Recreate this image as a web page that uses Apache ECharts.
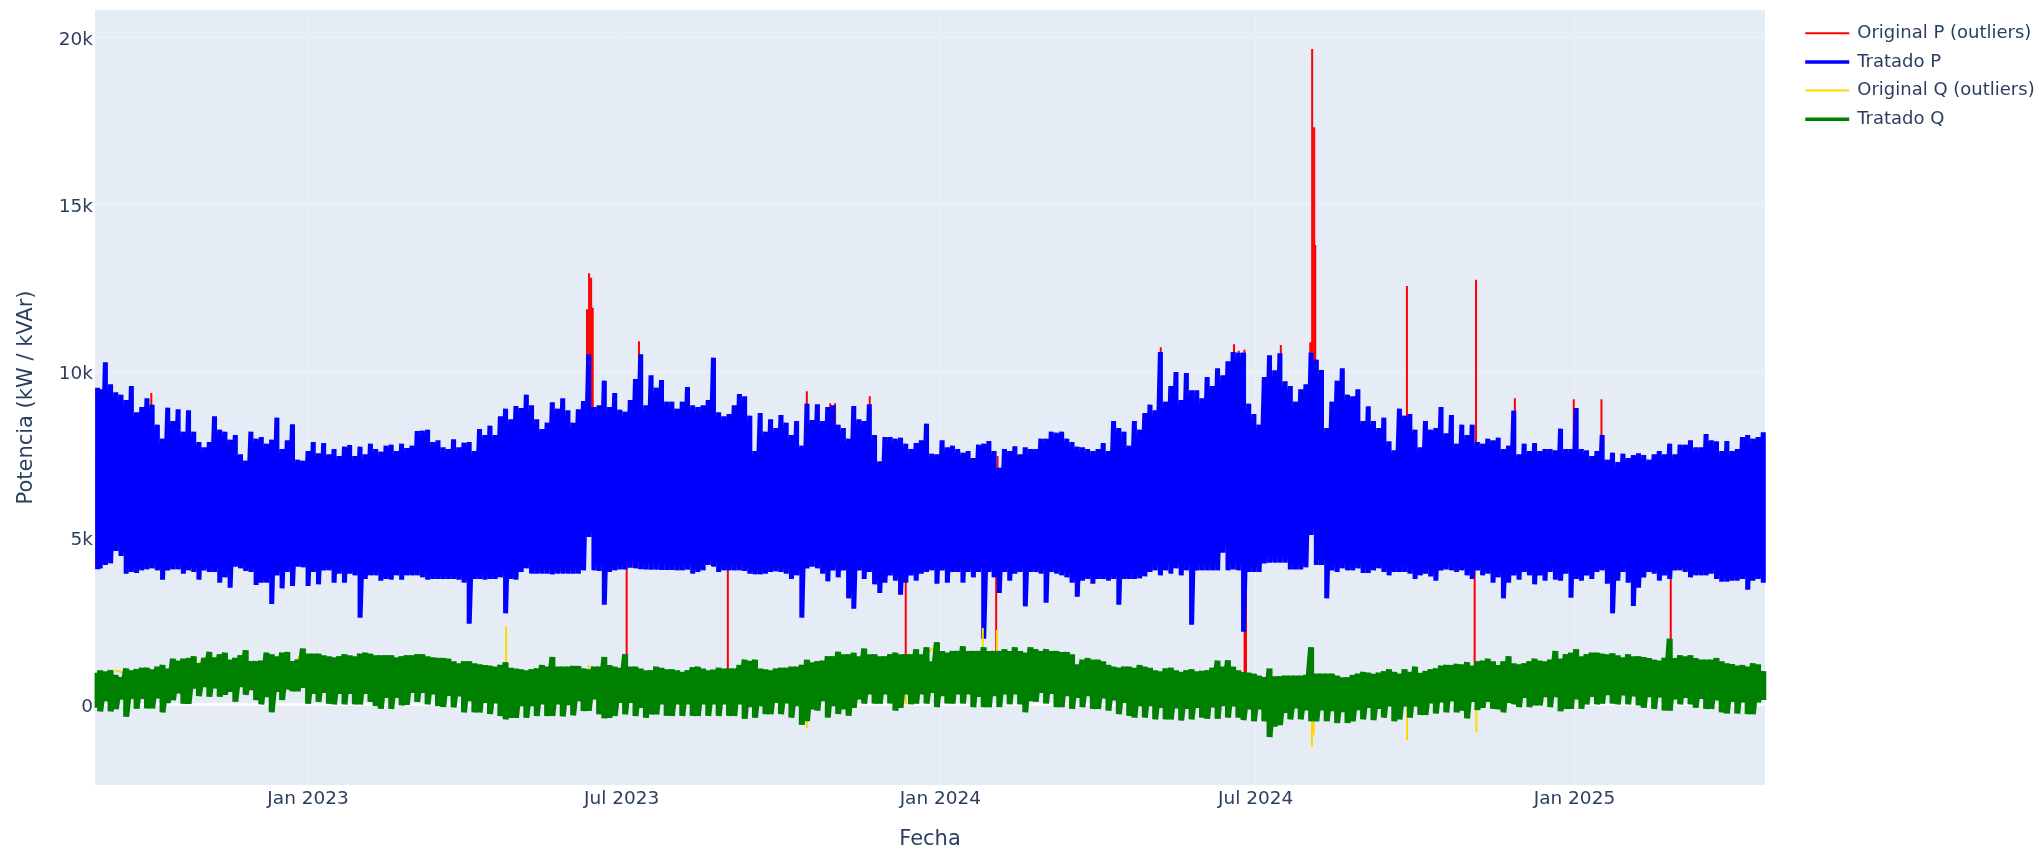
<!DOCTYPE html>
<html><head><meta charset="utf-8">
<style>html,body{margin:0;padding:0;background:#fff}#c{width:2039px;height:850px}</style>
<script src="https://cdn.jsdelivr.net/npm/echarts@6/dist/echarts.min.js"></script>
</head><body><div id="c"></div>
<script>
const seriesNames = ['Original P (outliers)', 'Tratado P', 'Original Q (outliers)', 'Tratado Q'];
const startDate = '2022-08-31';
const endDate = '2025-04-21';
const stepDays = 3;
const xTickDates = ['2023-01-01', '2023-07-01', '2024-01-01', '2024-07-01', '2025-01-01'];
const xTickLabels = ['Jan 2023', 'Jul 2023', 'Jan 2024', 'Jul 2024', 'Jan 2025'];
const yTickValues = [0, 5000, 10000, 15000, 20000];
const yTickLabels = ['0', '5k', '10k', '15k', '20k'];

// Upper and lower edge of each treated band, read every 3 days
const pTop = [
9500,9450,10260,9600,9360,9290,9130,9550,8760,8920,
9180,8990,8390,7970,8900,8500,8850,8180,8820,8180,
7870,7710,7870,8640,8240,8180,7940,8080,7500,7310,
8180,7970,8020,7820,7940,8600,7660,7920,8400,7340,
7310,7600,7870,7530,7840,7500,7660,7450,7730,7780,
7450,7730,7500,7820,7660,7580,7760,7790,7600,7820,
7690,7760,8200,8210,8240,7870,7920,7710,7660,7950,
7710,7850,7870,7600,8260,8080,8360,8080,8640,8870,
8550,8950,8890,9290,8970,8550,8260,8450,9060,8870,
9180,8820,8450,8850,9100,10500,8920,8970,9710,8920,
9340,8840,8780,9130,9760,10500,8970,9870,9500,9730,
9080,9080,8870,9080,9520,8970,8920,8970,9130,10400,
8760,8640,8710,8970,9310,9240,8660,7600,8740,8180,
8550,8290,8680,8450,8080,8500,7760,9020,8530,9000,
8500,8920,8970,8390,8290,7970,8950,8550,8500,9000,
8080,7290,8020,8020,7970,8000,7820,7660,7840,7920,
8420,7520,7500,7920,7710,7760,7660,7550,7600,7390,
7790,7820,7900,7600,7100,7660,7600,7740,7500,7710,
7660,7660,7970,7970,8180,8150,8180,7970,7870,7730,
7710,7660,7600,7660,7840,7600,8500,8290,8180,7760,
8500,8240,8740,8990,8820,10570,9080,9550,9970,9130,
9940,9420,9420,9180,9820,9550,10080,9870,10290,10570,
10550,10550,9020,8710,8390,9820,10470,10020,10530,9690,
9550,9080,9450,9600,10550,10340,10030,8290,9080,9710,
10080,9290,9240,9450,8500,8940,8500,8290,8600,7890,
7620,8870,8660,8710,8240,7710,8500,8240,8290,8920,
8130,8680,7820,8390,8080,8390,7870,7820,7970,7920,
8000,7660,7760,8810,7500,7820,7600,7840,7600,7660,
7660,7620,8270,7660,7660,8890,7660,7620,7450,7600,
8080,7340,7550,7270,7520,7390,7480,7530,7480,7340,
7500,7600,7500,7820,7500,7790,7790,7920,7710,7710,
8110,7920,7890,7600,7900,7600,7660,8020,8080,7970,
8020,8160];
const pBot = [
4050,4080,4180,4230,4600,4450,3920,3970,3940,4020,
4050,4080,4020,3740,4020,4050,4050,3920,4020,3970,
3740,4020,3970,3970,3650,3810,3500,4130,4080,4000,
3970,3580,3650,3650,3010,3870,3480,3970,3550,4130,
4110,3550,3970,3600,4020,4020,3650,3920,3650,3920,
3870,2600,3760,3870,3870,3710,3760,3740,3870,3740,
3870,3870,3870,3810,3740,3760,3760,3760,3760,3760,
3740,3650,2420,3760,3760,3740,3760,3760,3810,2730,
3760,3740,3970,4080,3920,3920,3920,3920,3900,3920,
3920,3920,3920,3920,4020,5020,4020,4000,2990,3970,
4020,4045,4045,4100,4080,4055,4045,4040,4040,4030,
4030,4030,4020,4020,4040,3920,3970,4020,4180,4130,
3970,4020,4020,4020,4020,4000,3920,3900,3900,3920,
3970,3990,3970,3920,3760,3870,2600,4080,4130,4080,
3920,3690,4020,3810,4020,3180,2870,4020,3760,3970,
3600,3340,3650,3870,3710,3290,3650,3870,3710,3920,
3970,4020,3620,4020,3650,3970,3970,3650,3970,3810,
3970,1970,3970,3810,3340,3970,3710,3920,3970,2940,
3970,3970,3920,3050,3970,3920,3870,3810,3650,3230,
3710,3760,3620,3760,3760,3710,3760,2990,3760,3760,
3760,3780,3840,3970,4020,3870,4020,3920,4080,3870,
4020,2390,4020,4020,4020,4020,4020,4550,4020,4045,
4020,2180,3970,3970,3970,4230,4250,4250,4250,4250,
4045,4045,4045,4110,5080,4180,4180,3180,4020,3970,
4080,4020,4020,4080,3940,3940,4020,4080,3970,3870,
3970,3970,3970,3920,3760,3870,3920,3835,3710,4020,
4045,4020,3970,4020,3870,3760,4020,3870,3920,3650,
3810,3180,3650,3870,3740,3970,3870,3600,3870,3710,
3970,3740,3710,3920,3200,3760,3710,3870,3760,3970,
4020,3620,2730,3710,3970,3650,2950,3500,3810,3970,
3920,3710,3870,3760,4020,4020,3970,3810,3870,3870,
3870,3920,3760,3680,3680,3710,3710,3760,3440,3710,
3760,3650];
const qTop = [
950,1020,990,1020,880,810,1075,1020,1050,1095,
1095,1050,1130,1180,1075,1370,1310,1370,1390,1440,
1230,1390,1570,1410,1500,1550,1340,1390,1470,1620,
1290,1290,1310,1550,1500,1440,1550,1570,1290,1340,
1675,1520,1520,1520,1470,1440,1410,1440,1500,1470,
1440,1520,1550,1520,1470,1470,1470,1470,1410,1440,
1470,1470,1500,1500,1440,1410,1390,1390,1370,1290,
1230,1290,1290,1230,1200,1180,1160,1130,1180,1265,
1095,1075,1050,1020,1050,1075,1180,1130,1420,1130,
1130,1130,1150,1150,1075,1050,1130,1130,1420,1180,
1130,1095,1500,1130,1130,1075,1020,1020,1130,1095,
1050,1050,1020,970,1020,1110,1130,1075,1020,1040,
1095,1075,1075,1075,1180,1340,1310,1340,1075,1050,
1020,1075,1095,1095,1130,1130,1180,1340,1265,1290,
1310,1440,1440,1580,1500,1500,1550,1440,1675,1500,
1500,1440,1440,1500,1550,1500,1500,1500,1650,1500,
1710,1290,1860,1600,1550,1600,1600,1740,1600,1600,
1600,1710,1600,1600,1600,1655,1600,1710,1600,1550,
1710,1655,1600,1655,1600,1600,1570,1570,1500,1200,
1340,1390,1340,1340,1290,1180,1130,1095,1130,1130,
1095,1180,1130,1095,1020,990,1075,1095,1020,970,
1020,1050,990,1000,1020,1095,1310,1130,1320,1130,
1020,970,950,920,860,810,1075,840,840,860,
860,860,860,880,1710,920,920,920,920,860,
810,810,880,920,970,950,910,950,990,1050,
970,920,1050,970,1130,940,1000,1050,1075,1160,
1180,1180,1210,1200,1265,1160,1290,1310,1370,1290,
1180,1290,1440,1230,1200,1230,1290,1370,1310,1290,
1340,1600,1370,1500,1550,1655,1440,1500,1550,1550,
1520,1500,1530,1470,1410,1500,1440,1440,1420,1390,
1340,1310,1390,1970,1390,1470,1440,1470,1390,1340,
1340,1340,1390,1290,1230,1210,1160,1180,1130,1230,
1200,990];
const qBot = [
-100,-210,100,-210,-140,150,-370,170,-130,170,
-120,-120,180,-240,40,130,330,20,20,480,
250,520,230,480,230,290,380,80,520,290,
430,130,0,220,-240,380,130,450,391,391,
500,20,320,76,350,20,0,320,0,320,
0,0,320,76,-50,-135,200,-135,200,-30,
-10,350,76,350,0,300,-50,-80,260,-90,
240,-240,100,-240,-240,50,-290,30,-350,-451,
-400,-400,-50,-400,-50,-350,0,-350,-346,0,
-360,-20,-330,100,-200,-190,150,-300,-420,-400,
-346,50,-300,50,-350,-100,-400,-300,-300,0,
-340,-346,0,-346,0,-346,-346,0,-346,0,
-346,0,-346,-346,0,-430,-80,-400,-50,-293,
-293,50,-293,30,-398,-50,-610,-500,-150,-188,
100,-398,-50,-293,-150,-346,-100,150,23,300,
23,23,300,23,-188,-100,300,0,23,300,
23,350,-83,250,23,23,300,23,300,-83,
230,-83,-83,250,-83,300,0,300,0,-241,
100,76,350,23,320,-83,-83,250,-135,200,
-83,250,-135,-135,180,-188,120,-293,50,-346,
-398,-50,-398,-50,-451,-100,-451,-451,-120,-483,
-130,-451,-100,-398,-430,-90,-430,-50,-398,-60,
-398,-472,-150,-504,-150,-504,-978,-662,-620,-250,
-451,-120,-451,-180,-504,-504,-180,-504,-200,-557,
-230,-557,-504,-170,-451,-100,-472,-130,-398,-60,
-504,-450,-60,-398,-60,-315,-315,30,-272,60,
-241,100,-241,-188,-420,80,-167,-100,76,-135,
-150,-241,50,0,-83,200,-83,-30,-30,220,
-83,220,-209,-135,-135,150,-135,0,230,0,
23,280,23,0,270,0,240,-30,-100,220,
-135,210,-188,-188,150,0,200,0,-104,170,
-135,-135,120,-241,-272,80,-272,60,-293,-293,
60,128];

// Outlier spikes: days since startDate, extreme value
const pOutDays = [32.5,284,285.2,286.4,287.3,314,410.9,424.4,427.2,447.2,521,615.2,657.5,660.2,663.5,684.5,701.5,702.6,703.8,704.4,757.3,797.2,819.6,853.6,869.6,306.9,365.3,468,520.2,663.6,664.4,796.4,909.6];
const pOutVals = [9340,11850,12930,12800,11900,10890,9390,9030,9030,9240,7450,10710,10800,10610,10640,10780,10860,19660,17310,13780,12550,12740,9180,9150,9150,1200,1000,1000,1000,900,900,1050,1500];
const pOutBase = 5500;
const qOutDays = [237.3,285,512.5,520.6,410.9,468,521,702.5,703.5,757.4,797.4,909.6];
const qOutVals = [2340,1180,2290,2230,-715,0,0,-1270,-925,-1080,-840,-170];
const qOutBase = 700;
// Short joins of the original Q trace that show above the band
const qLinkDays = [[11.5,16.5],[60,65],[81.6,86.6],[116.6,121.7],[481,487.3]];
const qLinkVals = [[1020,950],[1230,1440],[1340,1290],[1340,1655],[1570,1830]];

const DAY = 86400000;
const toMs = s => Date.parse(s + 'T00:00:00Z');
const t0 = toMs(startDate);
const toTime = d => t0 + d * DAY;
const zigzag = (top, bot) => {
  const out = [];
  top.forEach((v, i) => {
    const t = toTime(i === 0 ? stepDays / 2 : i * stepDays);
    out.push([t, v], [t, bot[i]]);
  });
  return out;
};
const spikes = (days, vals, base, links, linkVals) => {
  const out = [];
  days.forEach((d, i) => { out.push([toTime(d), base], [toTime(d), vals[i]], ['-', '-']); });
  (links || []).forEach((l, i) => { out.push([toTime(l[0]), linkVals[i][0]], [toTime(l[1]), linkVals[i][1]], ['-', '-']); });
  return out;
};
const FONT = '"DejaVu Sans", Verdana, sans-serif';
const TXT = '#2a3f5f';
const xTicks = xTickDates.map(toMs);
const line = (name, color, width, data) => ({
  name, type: 'line', data, symbol: 'none', showSymbol: false, animation: false,
  lineStyle: { color, width, join: 'bevel', cap: 'butt' }, itemStyle: { color },
  connectNulls: false, emphasis: { disabled: true }
});
const chart = echarts.init(document.getElementById('c'), null, { renderer: 'canvas' });
chart.setOption({
  animation: false,
  backgroundColor: '#ffffff',
  textStyle: { fontFamily: FONT, color: TXT },
  grid: { left: 95, right: 274, top: 10, bottom: 65, show: true, backgroundColor: '#E5ECF6', borderWidth: 0, outerBoundsMode: 'none' },
  legend: {
    left: 1798.5, top: 18.2, orient: 'vertical', itemWidth: 44, itemHeight: 14, itemGap: 8.7,
    itemStyle: { opacity: 0 },
    textStyle: { fontFamily: FONT, fontSize: 18, lineHeight: 20, color: TXT, padding: [0, 0, 0, 3] },
    data: [
      { name: seriesNames[0], lineStyle: { width: 2 } },
      { name: seriesNames[1], lineStyle: { width: 3.5 } },
      { name: seriesNames[2], lineStyle: { width: 2 } },
      { name: seriesNames[3], lineStyle: { width: 3.5 } }
    ]
  },
  xAxis: {
    type: 'value', min: toMs(startDate), max: toMs(endDate),
    name: 'Fecha', nameLocation: 'middle', nameGap: 44,
    nameTextStyle: { fontFamily: FONT, fontSize: 21, color: TXT },
    axisLine: { show: false }, axisTick: { show: false, customValues: xTicks },
    axisLabel: {
      customValues: xTicks, fontFamily: FONT, fontSize: 18.5, color: TXT, margin: 5,
      formatter: v => xTickLabels[xTicks.indexOf(v)] || ''
    },
    splitLine: { show: true, lineStyle: { color: '#ECF1F9', width: 1.3 } }
  },
  yAxis: {
    type: 'value', min: -2420, max: 20830,
    name: 'Potencia (kW / kVAr)', nameLocation: 'middle', nameGap: 58,
    nameTextStyle: { fontFamily: FONT, fontSize: 21, color: TXT },
    axisLine: { show: false, onZero: false }, axisTick: { show: false, customValues: yTickValues },
    axisLabel: {
      customValues: yTickValues, fontFamily: FONT, fontSize: 18.5, color: TXT, margin: 2,
      verticalAlign: 'top', lineHeight: 6,
      formatter: v => yTickLabels[yTickValues.indexOf(v)] ?? ''
    },
    splitLine: { show: true, lineStyle: { color: '#ECF1F9', width: 1.3 } }
  },
  series: [
    line(seriesNames[0], '#ff0000', 2, spikes(pOutDays, pOutVals, pOutBase)),
    line(seriesNames[1], '#0000ff', 5, zigzag(pTop, pBot)),
    line(seriesNames[2], '#ffd700', 2, spikes(qOutDays, qOutVals, qOutBase, qLinkDays, qLinkVals)),
    line(seriesNames[3], '#008000', 6, zigzag(qTop, qBot)),
    { type: 'line', silent: true, data: [], symbol: 'none', z: 1,
      markLine: { z: 1, silent: true, symbol: 'none', label: { show: false }, animation: false,
        lineStyle: { color: '#ffffff', width: 2.6, type: 'solid' }, data: [{ yAxis: 0 }] } }
  ]
});
</script></body></html>
